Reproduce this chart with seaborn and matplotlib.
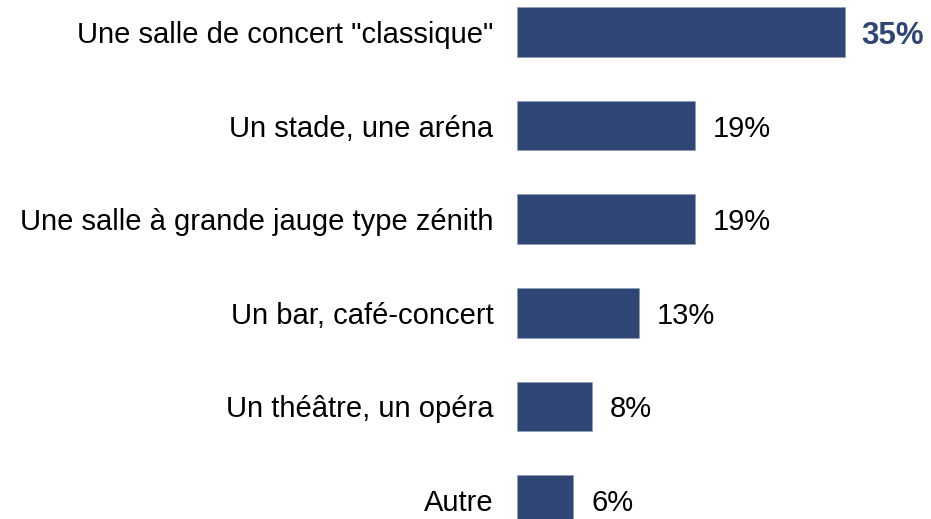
import matplotlib
matplotlib.use('Agg')
import matplotlib.pyplot as plt
import seaborn as sns
import pandas as pd

categories = ['Une salle de concert "classique"', 'Un stade, une aréna',
              'Une salle à grande jauge type zénith', 'Un bar, café-concert',
              'Un théâtre, un opéra', 'Autre']
values = [35, 19, 19, 13, 8, 6]

df = pd.DataFrame({'lieu': categories, 'pct': values})

sns.set_theme(style='white')
plt.rcParams['font.family'] = ['Liberation Sans', 'DejaVu Sans']

bar_color = '#2F4574'

fig = plt.figure(figsize=(9.31, 5.19), dpi=100)
ax = fig.add_axes([517 / 931, 0, 1 - 517 / 931, 1])
sns.barplot(data=df, y='lieu', x='pct', color=bar_color, saturation=1, width=0.53,
            edgecolor='#8C9BB8', linewidth=0.4, ax=ax)

ax.set_xlim(0, 44.2)
ax.set_ylim(5 + 19 / 93.6, -32 / 93.6)
ax.set_xlabel('')
ax.set_ylabel('')
ax.set_xticks([])
sns.despine(ax=ax, left=True, bottom=True)
ax.tick_params(axis='y', length=0, pad=17, labelsize=21, labelcolor='black')
for lab in ax.get_yticklabels():
    lab.set_verticalalignment('center_baseline')

# labels de valeur
for i, v in enumerate(values):
    if i == 0:
        ax.annotate(f'{v}%', (v, i), xytext=(12, 0), textcoords='offset points',
                    va='center_baseline', ha='left', fontsize=22.5, fontweight='bold',
                    color=bar_color)
    else:
        ax.annotate(f'{v}%', (v, i), xytext=(13, 0), textcoords='offset points',
                    va='center_baseline', ha='left', fontsize=21, color='black')

fig.savefig('out.png', dpi=100)
